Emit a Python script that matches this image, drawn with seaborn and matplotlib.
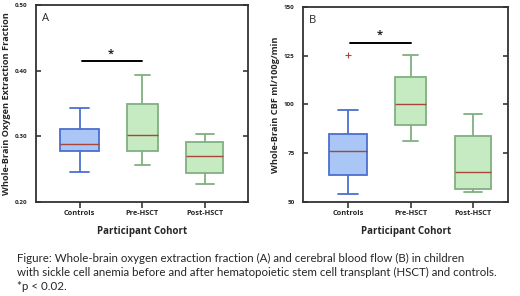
import seaborn as sns
import matplotlib.pyplot as plt
import pandas as pd

# Cohorts and box summaries
cohorts = ['Controls', 'Pre-HSCT', 'Post-HSCT']

# A: whole-brain OEF  (low whisker, q1, median, q3, high whisker)
oef_controls = [0.246, 0.277, 0.288, 0.311, 0.343]
oef_pre = [0.256, 0.278, 0.302, 0.349, 0.393]
oef_post = [0.227, 0.244, 0.270, 0.291, 0.304]

# B: whole-brain CBF (controls has one outlier at ~125)
cbf_controls = [54.0, 63.8, 63.8, 76.2, 76.2, 84.9, 84.9, 97.3, 125.4]
cbf_pre = [81.4, 89.3, 100.1, 114.0, 125.4]
cbf_post = [55.3, 56.5, 65.5, 83.9, 95.1]

box_widths = [0.62, 0.49, 0.59]

fill = {'Controls': '#a9c6f7', 'Pre-HSCT': '#c6eac1', 'Post-HSCT': '#c6eac1'}
edge = {'Controls': '#4a6fd0', 'Pre-HSCT': '#80b080', 'Post-HSCT': '#80b080'}
med_color = '#a8463a'

sns.set_style('white')
plt.rcParams['font.family'] = ['Open Sans', 'DejaVu Sans']


def long_df(groups):
    rows = []
    for name, vals in zip(cohorts, groups):
        for v in vals:
            rows.append({'Cohort': name, 'Value': v})
    return pd.DataFrame(rows)


def draw_panel(ax, df, ylim, yticks, yticklabels, ylabel, letter, xlim,
               sig_y, star_y):
    for name, w in zip(cohorts, box_widths):
        sub = df[df['Cohort'] == name]
        sns.boxplot(data=sub, x='Cohort', y='Value', order=cohorts, ax=ax,
                    width=w, color=fill[name], linecolor=edge[name],
                    saturation=1, linewidth=1.3,
                    medianprops={'color': med_color, 'linewidth': 1.0},
                    flierprops={'marker': '+', 'markeredgecolor': med_color,
                                'markersize': 4, 'markeredgewidth': 0.8})
    ax.set_xlim(*xlim)
    ax.set_ylim(*ylim)
    ax.set_yticks(yticks)
    ax.set_yticklabels(yticklabels, fontsize=4.5, fontweight='bold')
    ax.set_xticks(range(len(cohorts)))
    ax.set_xticklabels(cohorts, fontsize=5.3, fontweight='bold')
    ax.set_ylabel(ylabel, fontsize=6.6, fontweight='bold', labelpad=3)
    ax.set_xlabel('Participant Cohort', fontsize=7, fontweight='bold',
                  labelpad=6)
    ax.tick_params(axis='y', direction='in', left=True, right=True,
                   length=3.5, width=1.1, pad=6)
    ax.tick_params(axis='x', direction='out', bottom=True, length=4,
                   width=1.1, pad=2)
    for sp in ax.spines.values():
        sp.set_visible(True)
        sp.set_color('#333333')
        sp.set_linewidth(1.3)
    ax.text(0.03, 0.93, letter, transform=ax.transAxes, fontsize=8,
            va='center', ha='left')
    ax.plot([0.03, 1.0], [sig_y, sig_y], color='black', lw=1.4)
    ax.text(0.5, star_y, '*', ha='center', va='center', fontsize=8,
            fontweight='bold')


fig = plt.figure(figsize=(5.2, 2.96), dpi=100)
axA = fig.add_axes([0.069, 0.318, 0.408, 0.665])
axB = fig.add_axes([0.583, 0.318, 0.394, 0.658])

draw_panel(axA, long_df([oef_controls, oef_pre, oef_post]),
           (0.20, 0.50), [0.20, 0.30, 0.40, 0.50],
           ['0.20', '0.30', '0.40', '0.50'],
           'Whole-Brain Oxygen Extraction Fraction', 'A', (-0.70, 2.69),
           0.414, 0.425)
draw_panel(axB, long_df([cbf_controls, cbf_pre, cbf_post]),
           (50, 150), [50, 75, 100, 125, 150],
           ['50', '75', '100', '125', '150'],
           'Whole-Brain CBF ml/100g/min', 'B', (-0.72, 2.56),
           131.5, 135.5)

caption = ('Figure: Whole-brain oxygen extraction fraction (A) and cerebral blood flow (B) in children\n'
           'with sickle cell anemia before and after hematopoietic stem cell transplant (HSCT) and controls.\n'
           '*p < 0.02.')
fig.text(0.033, 0.145, caption, fontsize=8.3, family=['Lato', 'DejaVu Sans'],
         va='top', ha='left', linespacing=1.35)

fig.savefig('out.png', dpi=100)
